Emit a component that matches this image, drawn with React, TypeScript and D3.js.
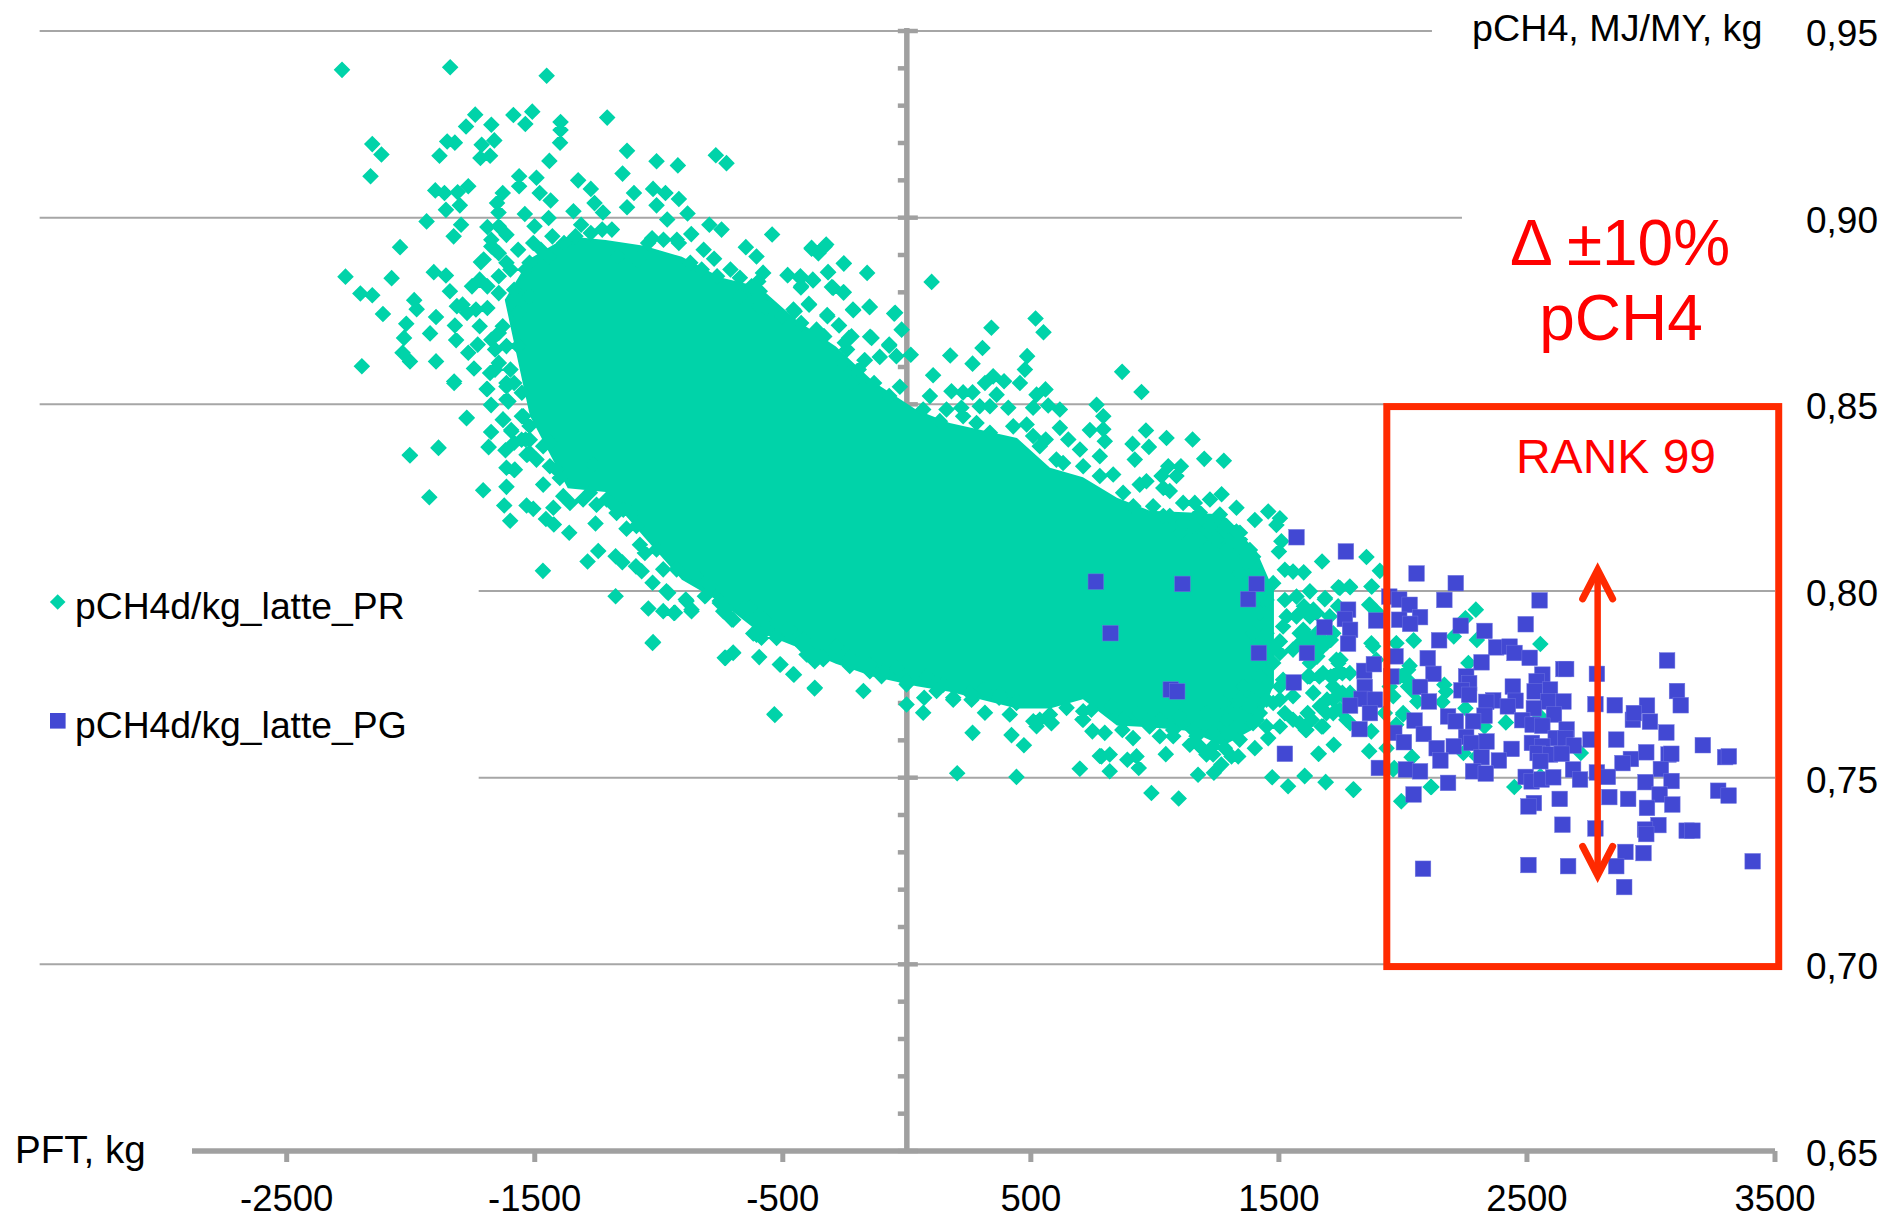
import React from "react";
import * as d3 from "d3";

// Values.
const xTickValues = [-2500, -1500, -500, 500, 1500, 2500, 3500];
const yTickValues = [0.65, 0.7, 0.75, 0.8, 0.85, 0.9, 0.95];
const yMinorValues = [0.66,0.67,0.68,0.69,0.71,0.72,0.73,0.74,0.76,0.77,0.78,0.79,0.81,0.82,0.83,0.84,0.86,0.87,0.88,0.89,0.91,0.92,0.93,0.94];
// gridline value, from PFT, to PFT
const gridSpans = [[0.95,-3496,2117],[0.9,-3496,2238],[0.85,-3496,1927],[0.8,-1726,3500],[0.75,-1726,3500],[0.7,-3496,1927]];
const legendNames = ["pCH4d/kg_latte_PR", "pCH4d/kg_latte_PG"];

// The PR cloud's core is thousands of fully overlapping diamonds that cannot be read one by one:
// it is drawn as one area from its read upper and lower envelope, individual points around it.
const coreX = [-1621,-1520,-1367,-1214,-1060,-907,-750,-597,-444,-286,-133,40,173,444,577,710,847,980,1141,1274,1411,1480];
const coreUpper = [.878,.889,.895,.894,.8925,.8895,.884,.8815,.8725,.8655,.856,.8485,.845,.841,.833,.8305,.825,.8215,.821,.8205,.8105,.80];
const coreLower = [.878,.847,.8275,.8265,.8145,.803,.797,.789,.785,.7805,.777,.7745,.773,.7685,.7685,.771,.764,.7635,.7625,.7585,.7635,.775];

const prUpperLeft = [[-2277,.9396],[-1841,.9403],[-1452,.938],[-1740,.9276],[-1586,.9275],[-1510,.9284],[-1777,.9244],[-1675,.9249],[-1538,.9251],[-1396,.9256],[-1396,.9235],[-1208,.9268],[-2155,.9197],[-2118,.9169],[-1822,.9201],[-1853,.9204],[-1884,.9166],[-1714,.9195],[-1663,.9207],[-1398,.9201],[-1719,.916],[-1680,.9166],[-1441,.9152],[-1128,.9179],[-1009,.9151],[-923,.914],[-770,.9167],[-727,.9146],[-2162,.9111],[-1146,.9118],[-1563,.9111],[-1563,.9084],[-1493,.9107],[-1325,.91],[-1274,.9077],[-1901,.9073],[-1864,.9066],[-1811,.9068],[-1768,.9084],[-1629,.9066],[-1480,.9066],[-1436,.9046],[-1100,.9066],[-1023,.9077],[-973,.9066],[-919,.905],[-1802,.9033],[-1858,.9021],[-1652,.9039],[-1646,.9014],[-1540,.901],[-1259,.9039],[-1128,.9028],[-1009,.9033],[-884,.9011],[-1936,.899],[-1797,.8981],[-1691,.8975],[-1444,.8999],[-1344,.9017],[-1225,.9014],[-966,.8995],[-796,.8981],[-747,.8968],[-1827,.895],[-1645,.8977],[-1501,.8977],[-1614,.8954],[-1313,.8981],[-1189,.8968],[-869,.8956],[-543,.8955],[-2043,.8921],[-1675,.8941],[-649,.8921],[-606,.8896],[-384,.8917],[-325,.8928],[-356,.8905],[-254,.8878],[-1027,.8945],[-927,.8941],[-819,.8914],[-777,.889],[-160,.8852],[-318,.8854],[-2263,.8842],[-2077,.8838],[-1907,.8854],[-1858,.8845],[-1717,.8881],[-1660,.8914],[-1081,.8889],[-2203,.8797],[-2155,.8792],[-1842,.8803],[-1753,.8816],[-480,.8846],[-429,.8838],[-379,.8834],[-426,.8816],[-302,.8814],[-256,.88],[-711,.8861],[-580,.8852],[-1986,.8779],[-1976,.8755],[-2112,.8742],[-1791,.8767],[-1691,.8758],[-1773,.8745],[-395,.8769],[-151,.8761],[-217,.8754],[-51,.8743],[-1898,.8734],[-2018,.8716],[-1822,.8711],[-321,.8739],[-274,.8712],[-1922,.869],[-2027,.8678],[-1817,.8672],[-1675,.8673],[-148,.8681],[-233,.8678],[-71,.866],[-2033,.8638],[-2003,.8615],[-1898,.8615],[-1730,.866],[-1768,.8638],[-1745,.8596],[-2197,.8602],[-1680,.8584],[-1825,.8561],[-171,.8618],[-109,.8627],[-256,.8611],[-1691,.8541],[-1614,.8557],[-1606,.8508],[-1676,.8498],[-1774,.8464],[-1629,.8459],[-1676,.8426],[-1595,.8431],[-1686,.8386],[-1618,.8377],[-1888,.8384],[-2004,.8364],[-1529,.8366],[-1614,.833],[-1583,.8324]];
const prLowerLeft = [[-1825,.8557],[-1694,.8541],[-1614,.8548],[-1676,.8499],[-1607,.8508],[-1775,.8463],[-1627,.8459],[-1546,.8468],[-1676,.8426],[-1594,.8428],[-1888,.8383],[-2003,.8363],[-1686,.8385],[-1618,.8377],[-1533,.8365],[-1553,.8405],[-1614,.833],[-1580,.8325],[-1466,.8285],[-1708,.827],[-1614,.8279],[-1925,.8251],[-1623,.8229],[-1533,.8229],[-1506,.822],[-1599,.8188],[-1455,.8193],[-1423,.8178],[-1361,.8156],[-1255,.8181],[-1130,.8167],[-1425,.8223],[-1358,.8236],[-1305,.8245],[-1251,.8231],[-1170,.8209],[-1184,.8231],[-1110,.8209],[-1076,.8124],[-1056,.8102],[-1244,.8107],[-1287,.8079],[-1174,.8093],[-1147,.8077],[-1092,.8066],[-1069,.8053],[-1467,.8054],[-1025,.8022],[-969,.7999],[-1174,.7986],[-1042,.7953],[-982,.7946],[-935,.7942],[-891,.7977],[-868,.7946],[-810,.7988],[-1025,.7861],[-754,.7973],[-706,.7924],[-619,.7886],[-586,.7875],[-731,.7821],[-700,.7835],[-595,.7823],[-509,.7803],[-458,.7777],[-371,.7741],[-534,.767],[-391,.7835],[-337,.7817],[-982,.8058],[-1412,.8325],[-1264,.8339],[-1399,.8303],[-1466,.8388],[-1439,.8397]];
const prUpperMiddle = [[-606,.8896],[-384,.8919],[-357,.8905],[-331,.8923],[-254,.8877],[-160,.8852],[-481,.8846],[-429,.8843],[-378,.8832],[-317,.8854],[-427,.8813],[-579,.8852],[-599,.8829],[-593,.8803],[-297,.8812],[-254,.88],[-394,.8767],[-216,.8752],[-149,.8761],[-47,.8745],[-320,.8736],[-452,.8749],[-566,.8758],[-273,.8711],[-21,.87],[100,.8828],[-223,.8682],[-250,.8665],[-142,.8678],[-71,.8657],[-109,.8627],[-42,.8629],[16,.8633],[-169,.8618],[-257,.8611],[175,.8631],[341,.8705],[519,.873],[551,.8693],[305,.8651],[265,.8609],[485,.8629],[106,.8578],[476,.8593],[348,.8575],[315,.8557],[392,.8562],[456,.8557],[180,.8535],[227,.8532],[265,.8532],[-28,.8547],[93,.8522],[362,.8526],[559,.854],[523,.8526],[868,.8587],[946,.8533],[765,.8499],[792,.8468],[570,.8497],[617,.8486],[509,.8491],[409,.8491],[294,.8495],[335,.8495],[220,.8491],[160,.8486],[66,.8486],[738,.8431],[792,.8433],[798,.8401],[617,.8437],[651,.8406],[560,.8406],[698,.8379],[964,.843],[910,.8394],[976,.8386],[1047,.841],[1152,.8406],[919,.8352],[1199,.8354],[1278,.8349],[1105,.8334],[1054,.8334],[1027,.8308],[1087,.8308],[832,.8312],[778,.8361],[939,.8285],[966,.8294],[1060,.8268],[1034,.8276],[1114,.8236],[1161,.8236],[1222,.8245],[1269,.8259],[1329,.8223],[1343,.8156],[1262,.8205],[1181,.821],[1249,.8138],[1114,.8183],[1034,.8201]];
const prLowerMiddle = [[-1023,.7863],[-734,.7821],[-700,.7834],[-595,.7823],[-512,.7803],[-455,.7776],[-372,.7739],[-175,.7732],[-532,.7668],[-1,.7696],[66,.7674],[70,.7714],[120,.7732],[187,.7709],[261,.7709],[315,.7674],[265,.762],[372,.7714],[415,.7669],[442,.77],[422,.7614],[472,.7587],[523,.7638],[584,.7647],[708,.7656],[749,.7625],[203,.7512],[442,.7502],[698,.7524],[778,.7558],[-230,.7799],[-189,.7807],[-149,.7785],[-102,.7772],[-1,.775],[-371,.7812],[-337,.7821],[-404,.783],[-606,.7883],[-700,.7923],[-962,.7995],[-888,.7973],[-982,.7946],[-939,.7941],[-868,.795],[-814,.7986],[-754,.7968]];
const prRight = [[1457,.8213],[1403,.819],[1504,.8195],[1490,.8177],[1329,.8159],[1510,.8133],[1500,.8106],[1248,.8137],[1674,.8079],[1853,.8091],[1907,.8054],[1524,.8057],[1557,.8052],[1600,.805],[1416,.8039],[1356,.811],[1746,.8008],[1786,.8012],[1873,.8012],[1685,.7978],[1625,.7999],[1524,.7976],[1571,.7985],[1739,.7959],[1867,.7963],[1900,.7941],[1477,.8021],[1531,.7932],[1584,.7941],[1652,.7941],[1450,.7887],[1517,.7905],[1598,.7896],[1584,.786],[1504,.7865],[1665,.7843],[1692,.786],[1732,.7816],[1786,.778],[1477,.7807],[1423,.7771],[1450,.7744],[1517,.7762],[1557,.7718],[1625,.7771],[1678,.778],[1719,.7744],[1759,.7718],[1477,.77],[1423,.7673],[1524,.7673],[1584,.7646],[1611,.7628],[1672,.7637],[1772,.7655],[1873,.786],[1974,.786],[2044,.7867],[1893,.7816],[2021,.7789],[1961,.7718],[1947,.7744],[2041,.7731],[2001,.7669],[1873,.7624],[1927,.7673],[1721,.7588],[1661,.7564],[1864,.7571],[1934,.7579],[2037,.7555],[1961,.7522],[1473,.7501],[1537,.7477],[1604,.7505],[1688,.7488],[1799,.7468],[2115,.7475],[1994,.7437],[2021,.7744]];
const prBottom = [[697,.7524],[818,.7517],[785,.7557],[818,.7562],[889,.7548],[926,.7557],[935,.7526],[1044,.7563],[986,.7459],[1096,.7444],[1174,.7508],[1238,.7513],[1268,.7535],[1235,.7562],[1336,.7557],[1309,.7557],[1403,.7579],[1457,.7606],[1141,.7588],[1208,.7562],[1282,.7579],[1074,.7611],[1020,.7611],[912,.7606],[869,.7628],[798,.762],[748,.7624],[711,.7655],[744,.7682],[825,.7691],[583,.7646],[536,.7655],[1168,.7611],[1235,.762],[1342,.7637],[1410,.7655],[1289,.7655],[1154,.7628],[1020,.7655],[939,.7673],[1100,.7664],[1208,.7673],[1275,.77],[1383,.7691],[1329,.7673]];
const prTail = [[1740,.801],[1787,.801],[1875,.8012],[2294,.795],[2252,.7927],[1864,.7963],[2205,.7878],[2298,.7869],[2043,.7868],[2554,.7858],[1973,.786],[2264,.7807],[2027,.78],[2167,.7749],[2174,.7731],[2159,.7703],[2058,.7704],[2001,.7673],[2252,.7686],[2415,.7648],[2329,.7637],[2554,.7664],[1973,.7642],[2035,.7555],[2244,.7566],[2717,.7566],[2298,.7557],[2112,.7475],[2449,.7475],[1993,.7437],[2554,.7504],[1965,.7526],[1802,.7468],[1689,.7488],[1604,.7504],[1659,.7564],[1721,.7588],[1864,.7571],[1934,.7579],[1872,.7624],[1787,.7646],[1678,.7637],[1608,.7628],[1616,.7673],[1632,.7655],[1732,.7682],[1740,.7807],[1756,.778],[1709,.7771],[1663,.7771],[1616,.7771],[1694,.7709],[1639,.7727],[1756,.7727],[1787,.7727],[1608,.7887],[1663,.7878],[1709,.7869],[1748,.7816],[1880,.7852],[1988,.7771],[2019,.7762],[1601,.7959],[1639,.795],[1686,.7981],[1655,.7825],[1647,.7869]];
const prLeftBand = [[-1675,.8923],[-1645,.8905],[-1706,.8888],[-1614,.8879],[-1722,.8834],[-1691,.8816],[-1645,.8843],[-1598,.8861],[-1814,.8763],[-1737,.8754],[-1645,.8798],[-1583,.8807],[-1629,.8709],[-1645,.8691],[-1614,.8656],[-1660,.8647],[-1645,.8611],[-1598,.8593],[-1583,.8557],[-1552,.8531],[-1660,.8593],[-1614,.8513],[-1552,.8468],[-1521,.8442],[-1583,.8397],[-1537,.8406],[-1521,.837],[-1722,.8709],[-1567,.8745],[-1567,.8656],[-1521,.8789],[-1537,.8861],[-1567,.8914],[-1506,.8932],[-1521,.8879],[-1475,.8914],[-1429,.895]];
const prTopEdge = [[-1444,.8896],[-1382,.8932],[-1336,.895],[-1274,.8959],[-1228,.8968],[-1166,.8896],[-1089,.8888],[-1043,.8932],[-981,.8941],[-919,.8932],[-873,.8879],[-827,.8861],[-765,.8843],[-673,.8839],[-626,.8816],[-596,.8789],[-673,.8789],[-549,.8763],[-457,.8754],[-503,.8736],[-596,.8763],[-426,.8718],[-364,.87],[-333,.8682],[-241,.8647],[-194,.8593],[-132,.8557],[-71,.8522],[-225,.8557]];
const prUpperRightEdge = [[133,.8455],[227,.8468],[281,.845],[335,.8424],[429,.8441],[483,.8446],[509,.8415],[536,.8388],[603,.8352],[630,.8343],[711,.8334],[778,.8308],[872,.8263],[913,.8227],[993,.8227],[1060,.8201],[1154,.8174],[1222,.8174],[1101,.8156],[1289,.8174],[1343,.8138],[1181,.8138]];
const prRightBulge = [[1289,.811],[1329,.8075],[1396,.8092],[1342,.8048],[1410,.7985],[1450,.7976],[1423,.7941],[1396,.7887],[1423,.786],[1463,.7851],[1504,.7834],[1571,.7932],[1625,.7932],[1584,.7887],[1652,.7887],[1625,.786],[1557,.7843],[1719,.7887],[1705,.7932],[1625,.7807],[1732,.778],[1746,.7816],[1504,.7744],[1396,.7744],[1396,.7709],[1450,.7709],[1504,.7709],[1638,.7727],[1665,.7691],[1719,.7709],[1692,.7673],[1557,.7655],[1504,.7637],[1450,.7637],[1396,.7646],[1356,.7664],[1342,.7709],[1356,.7744],[1719,.7673],[1746,.7682],[1383,.811],[1369,.8075]];
const prLowerEdge = [[-740,.7946],[-633,.7955],[-566,.7897],[-525,.7874],[-472,.7897],[-418,.7852],[-364,.783],[-283,.7852],[-230,.7821],[-149,.7803],[-95,.7785],[-41,.7794],[-1,.7758],[80,.7772],[147,.7749],[187,.7714],[254,.7727],[308,.7736],[375,.7723],[442,.7705],[510,.7651],[577,.7669],[644,.7687],[711,.7678],[872,.7655],[979,.7637],[1074,.7628],[1181,.7584],[1235,.7584],[1342,.7602],[-1385,.8254],[-1278,.8263],[-1210,.8245],[-1143,.8218],[-1090,.8174],[-1009,.8111],[-928,.8058],[-848,.804],[-794,.8013],[-727,.7951],[-660,.7951],[-579,.7924],[-485,.7897],[-418,.787],[-1520,.8405],[-1493,.8352],[-1439,.8334]];

const pgLeft = [[762,.8025],[1111,.8019],[821,.7887],[1571,.8144],[1410,.8019],[1376,.7978],[1419,.7834],[1064,.7736],[1090,.7731],[1560,.7755],[1524,.7564]];
const pgRank = [[1770,.8106],[2055,.8047],[2213,.8021],[2167,.7976],[2551,.7975],[1945,.7985],[1985,.7977],[2027,.7963],[1779,.795],[1766,.7925],[1892,.7921],[1985,.7923],[2069,.793],[2029,.7912],[2233,.7907],[2329,.7893],[2495,.7911],[1684,.7903],[1787,.7896],[1779,.7859],[2146,.7868],[2376,.7849],[2430,.7851],[2450,.7834],[2511,.7821],[1613,.7834],[1970,.7825],[2100,.782],[2317,.7809],[1844,.7786],[1883,.7804],[2123,.7778],[1953,.7771],[2255,.7771],[2562,.7776],[2647,.7791],[2658,.7791],[2782,.7778],[3065,.7814],[2267,.7753],[2069,.7743],[2443,.7744],[1846,.7743],[2539,.7758],[2593,.7736],[2531,.7731],[2236,.7734],[2267,.7722],[3105,.7732],[3120,.7694],[2776,.7697],[2854,.7694],[2984,.7693],[1833,.7711],[1887,.7709],[1787,.7693],[2105,.7704],[2364,.7707],[2454,.7706],[2336,.7703],[2647,.7704],[2585,.7704],[2423,.7691],[2528,.7686],[1867,.7673],[2182,.7664],[2213,.7651],[2329,.7666],[2283,.7651],[2609,.7669],[2481,.7654],[2523,.7642],[2562,.7639],[2047,.7653],[2927,.7655],[2931,.7673],[2996,.765],[1825,.763],[1965,.762],[2084,.7617],[2255,.7609],[2660,.7629],[2616,.7606],[2655,.7606],[3062,.7621],[2860,.7602],[2756,.7602],[2004,.7595],[2337,.7597],[2275,.7593],[2520,.7593],[2562,.7584],[2689,.7586],[2136,.7579],[2205,.7584],[2438,.7577],[3209,.7587],[2151,.7546],[2317,.7555],[2387,.7546],[2543,.7566],[2593,.7562],[2640,.7564],[2981,.7568],[2919,.755],[2885,.7539],[3071,.7562],[3082,.7564],[3299,.7555],[3314,.7557],[2554,.7544],[3040,.7523],[1903,.7526],[2012,.7522],[2069,.7517],[2283,.7517],[2334,.7511],[2686,.7522],[2782,.7514],[2826,.7502],[2495,.7502],[2519,.749],[2559,.7495],[2606,.7501],[2714,.7495],[2978,.7488],[3083,.7491],[2182,.7486],[3271,.7465],[3313,.7452],[2043,.7455],[2832,.7448],[2908,.7443],[3035,.7455],[2632,.7443],[2528,.7432],[2506,.7423],[3086,.7428],[2984,.7419],[2643,.7374],[2776,.7364],[3030,.7373],[2976,.7361],[2981,.7349],[3144,.7358],[3167,.7358],[2897,.7301],[2970,.7298],[2506,.7266],[2666,.7263],[2860,.7263],[2081,.7256],[3410,.7276],[2892,.7207]];

const rankBox = { x0: 1935, x1: 3515, y0: 0.6994, y1: 0.8494 };
const arrowSpan = { x: 2785, y0: 0.7225, y1: 0.807 };

const prPoints = [...prUpperLeft, ...prLowerLeft, ...prUpperMiddle, ...prLowerMiddle, ...prRight, ...prBottom, ...prTail, ...prLeftBand, ...prTopEdge, ...prUpperRightEdge, ...prRightBulge, ...prLowerEdge];
const pgPoints = [...pgLeft, ...pgRank];

const GREEN = "#00d3a9";
const BLUE = "#4248d3";
const GREY = "#a0a0a0";
const FONT = '"Liberation Sans", Arial, sans-serif';

export default function App() {
  const x = d3.scaleLinear().domain([-2500, 3500]).range([286.7, 1775]);
  const y = d3.scaleLinear().domain([0.65, 0.95]).range([1151, 31]);
  const fmt = (v: number) => v.toFixed(2).replace(".", ",");
  const diamond = (px: number, py: number, r: number) => `M${px},${py - r}L${px + r},${py}L${px},${py + r}L${px - r},${py}Z`;
  const coreArea = d3.area<number>()
    .x((d) => x(d))
    .y0((_, i) => y(coreLower[i]))
    .y1((_, i) => y(coreUpper[i]));
  const prPath = prPoints.map(([a, b]) => diamond(x(a), y(b), 8.3)).join("");
  const ax = x(arrowSpan.x), aTop = y(arrowSpan.y1), aBot = y(arrowSpan.y0);

  return (
    <svg width={1903} height={1218} style={{ position: "absolute", left: 0, top: 0 }} fontFamily={FONT}>
      {gridSpans.map(([v, a, b]) => (
        <line key={v} x1={x(a)} x2={x(b)} y1={y(v)} y2={y(v)} stroke="#a6a6a6" strokeWidth={2} />
      ))}
      <line x1={192} x2={x(3500)} y1={y(0.65)} y2={y(0.65)} stroke={GREY} strokeWidth={5.5} />
      <line x1={x(0)} x2={x(0)} y1={y(0.95) - 3} y2={y(0.65)} stroke={GREY} strokeWidth={5.5} />
      {xTickValues.map((v) => (
        <line key={v} x1={x(v)} x2={x(v)} y1={y(0.65)} y2={y(0.65) + 11} stroke={GREY} strokeWidth={5} />
      ))}
      {yMinorValues.map((v) => (
        <line key={v} x1={x(0) - 9} x2={x(0)} y1={y(v)} y2={y(v)} stroke={GREY} strokeWidth={4.5} />
      ))}
      {yTickValues.map((v) => (
        <line key={v} x1={x(0) - 9} x2={x(0) + 11} y1={y(v)} y2={y(v)} stroke={GREY} strokeWidth={4.5} />
      ))}

      <path d={coreArea(coreX) || ""} fill={GREEN} />
      <path d={prPath} fill={GREEN} />
      {pgPoints.map(([a, b], i) => (
        <rect key={i} x={x(a) - 7.8} y={y(b) - 7.8} width={15.6} height={15.6} fill={BLUE} stroke="#6f74e0" strokeWidth={0.5} />
      ))}

      <rect x={x(rankBox.x0)} y={y(rankBox.y1)} width={x(rankBox.x1) - x(rankBox.x0)} height={y(rankBox.y0) - y(rankBox.y1)} fill="none" stroke="#ff2a00" strokeWidth={7} />
      <line x1={ax} x2={ax} y1={aTop + 6} y2={aBot - 6} stroke="#ff2a00" strokeWidth={6.5} />
      <path d={`M${ax - 15},${aTop + 34}L${ax},${aTop + 5}L${ax + 15},${aTop + 34}`} fill="none" stroke="#ff2a00" strokeWidth={7} strokeLinecap="round" />
      <path d={`M${ax - 15},${aBot - 34}L${ax},${aBot - 5}L${ax + 15},${aBot - 34}`} fill="none" stroke="#ff2a00" strokeWidth={7} strokeLinecap="round" />

      {xTickValues.map((v) => (
        <text key={v} x={x(v)} y={1211} textAnchor="middle" fontSize={36.5} fill="#000">{v}</text>
      ))}
      {yTickValues.map((v) => (
        <text key={v} x={1806} y={y(v) + 15} fontSize={37} fill="#000">{fmt(v)}</text>
      ))}
      <text x={1472} y={41} fontSize={37.7} fill="#000">pCH4, MJ/MY, kg</text>
      <text x={15} y={1163} fontSize={38.6} fill="#000">PFT, kg</text>

      <path d={diamond(57.7, 602, 7.8)} fill={GREEN} />
      <rect x={50} y={713} width={15.6} height={15.6} fill={BLUE} />
      <text x={75} y={619} fontSize={37.3} fill="#000">{legendNames[0]}</text>
      <text x={75} y={738} fontSize={37.3} fill="#000">{legendNames[1]}</text>

      <text x={1620} y={265} textAnchor="middle" fontSize={64} fill="#ff0000">Δ ±10%</text>
      <text x={1621} y={340} textAnchor="middle" fontSize={64} fill="#ff0000">pCH4</text>
      <text x={1616} y={473} textAnchor="middle" fontSize={48} fill="#ff0000">RANK 99</text>
    </svg>
  );
}
